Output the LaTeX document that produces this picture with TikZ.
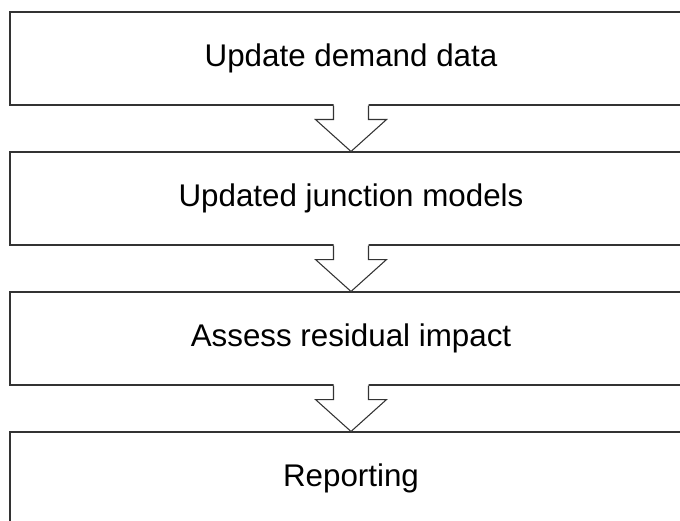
\documentclass[tikz,border=0pt]{standalone}
\usepackage{fontspec}
\setmainfont{Liberation Sans}
\usetikzlibrary{calc}
\begin{document}
\begin{tikzpicture}[x=0.75pt,y=-0.75pt,
  stepbox/.style={draw=black!80,line width=0.8pt,fill=white,minimum width=511.5pt,minimum height=69.75pt,inner sep=0pt,font=\fontsize{23.5}{28}\selectfont},
  flowarrow/.style={draw=black!80,line width=0.8pt,line join=miter}]
\useasboundingbox (0,0) rectangle (680,520);
\clip (0,0) rectangle (680,520);
\node[stepbox] (b1) at (351,58.5) {Update demand data};
\node[stepbox] (b2) at (351,198.5) {Updated junction models};
\node[stepbox] (b3) at (351,338.5) {Assess residual impact};
\node[stepbox] (b4) at (351,478.5) {Reporting};
\foreach \a/\b in {b1/b2,b2/b3,b3/b4}{
  \coordinate (s) at (\a.south);
  \coordinate (t) at (\b.north);
  \fill[white] ($(s)+(-17.5,-1.5)$) -- ($(s)+(-17.5,14)$) -- ($(s)+(-35.5,14)$) -- (t) -- ($(s)+(35.5,14)$) -- ($(s)+(17.5,14)$) -- ($(s)+(17.5,-1.5)$) -- cycle;
  \draw[flowarrow] ($(s)+(-17.5,0)$) -- ($(s)+(-17.5,14)$) -- ($(s)+(-35.5,14)$) -- (t) -- ($(s)+(35.5,14)$) -- ($(s)+(17.5,14)$) -- ($(s)+(17.5,0)$);
}
\end{tikzpicture}
\end{document}
